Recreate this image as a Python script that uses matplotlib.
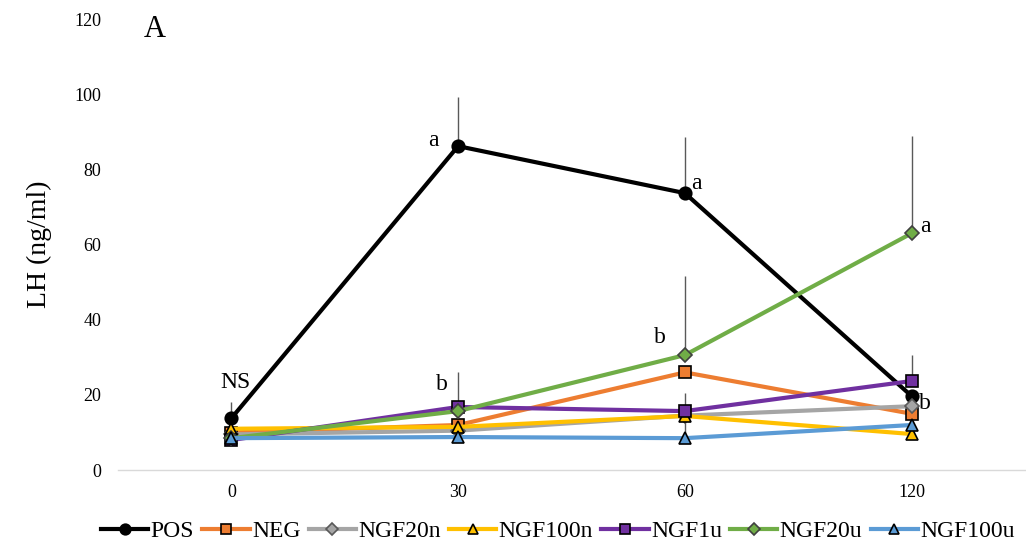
import numpy as np
import matplotlib.pyplot as plt

plt.rcParams["font.family"] = ["Liberation Serif", "DejaVu Serif"]

time_labels = ["0", "30", "60", "120"]

pos = [13.8, 86.2, 73.7, 19.7]
neg = [10.0, 12.0, 26.0, 15.0]
ngf20n = [9.5, 10.5, 14.5, 17.0]
ngf100n = [11.0, 11.5, 14.4, 9.6]
ngf1u = [8.0, 16.8, 15.7, 23.7]
ngf20u = [8.5, 15.7, 30.6, 63.0]
ngf100u = [8.5, 8.8, 8.5, 12.0]

# upper error (SEM)
pos_err = [4.2, 13.0, 15.0, 0.0]
neg_err = [0.0, 0.0, 0.0, 0.0]
ngf20n_err = [0.0, 0.0, 0.0, 0.0]
ngf100n_err = [0.0, 0.0, 0.0, 0.0]
ngf1u_err = [0.0, 9.2, 4.8, 7.0]
ngf20u_err = [0.0, 0.0, 21.0, 26.0]
ngf100u_err = [0.0, 0.0, 5.5, 0.0]

series = [
    ("POS", pos, pos_err, "black", "o", "black", 9),
    ("NEG", neg, neg_err, "#ED7D31", "s", "black", 9),
    ("NGF20n", ngf20n, ngf20n_err, "#A5A5A5", "D", "#595959", 7),
    ("NGF100n", ngf100n, ngf100n_err, "#FFC000", "^", "black", 8),
    ("NGF1u", ngf1u, ngf1u_err, "#7030A0", "s", "black", 9),
    ("NGF20u", ngf20u, ngf20u_err, "#70AD47", "D", "#404040", 7),
    ("NGF100u", ngf100u, ngf100u_err, "#5B9BD5", "^", "black", 8),
]

letters = [
    (0, 20.5, "NS"), (1, 85.0, "a"), (2, 73.5, "a"), (3, 62.0, "a"),
    (1, 20.0, "b"), (2, 32.5, "b"), (3, 15.0, "b"),
]
letter_dx = [0.02, -0.11, 0.05, 0.06, -0.07, -0.11, 0.06]

fig, ax = plt.subplots(figsize=(10.26, 5.46), dpi=100)
fig.subplots_adjust(left=0.115, right=0.999, bottom=0.139, top=0.965)

x = np.arange(len(time_labels))

for name, vals, err, color, marker, edge, ms in series:
    ax.vlines(x, vals, np.array(vals) + np.array(err),
              color="#595959", linewidth=1, zorder=1)

for name, vals, err, color, marker, edge, ms in series:
    ax.plot(x, vals, color=color, linewidth=3, marker=marker,
            markersize=ms, markerfacecolor=color, markeredgecolor=edge,
            markeredgewidth=1.2, label=name, zorder=2)

for (xi, yi, txt), dx in zip(letters, letter_dx):
    ax.text(xi + dx, yi, txt, fontsize=17, ha="center", va="bottom")

ax.text(-0.34, 117.3, "A", fontsize=22, ha="center", va="center")

ax.set_xlim(-0.5, 3.5)
ax.set_ylim(0, 120)
ax.set_yticks(np.arange(0, 121, 20))
ax.set_xticks(x)
ax.set_xticklabels(time_labels)
ax.tick_params(axis="both", length=0, labelsize=13)
ax.tick_params(axis="y", pad=12)
ax.tick_params(axis="x", pad=10)

for side in ["top", "right", "left"]:
    ax.spines[side].set_visible(False)
ax.spines["bottom"].set_color("#D9D9D9")
ax.spines["bottom"].set_linewidth(1)

ax.set_ylabel("LH (ng/ml)", fontsize=20, labelpad=16)

ax.legend(loc="upper center", bbox_to_anchor=(0.485, -0.065), ncol=7,
          frameon=False, fontsize=17, handlelength=2.0, handletextpad=0.1,
          columnspacing=0.35, markerscale=0.85)

fig.savefig("out.png", dpi=100)
